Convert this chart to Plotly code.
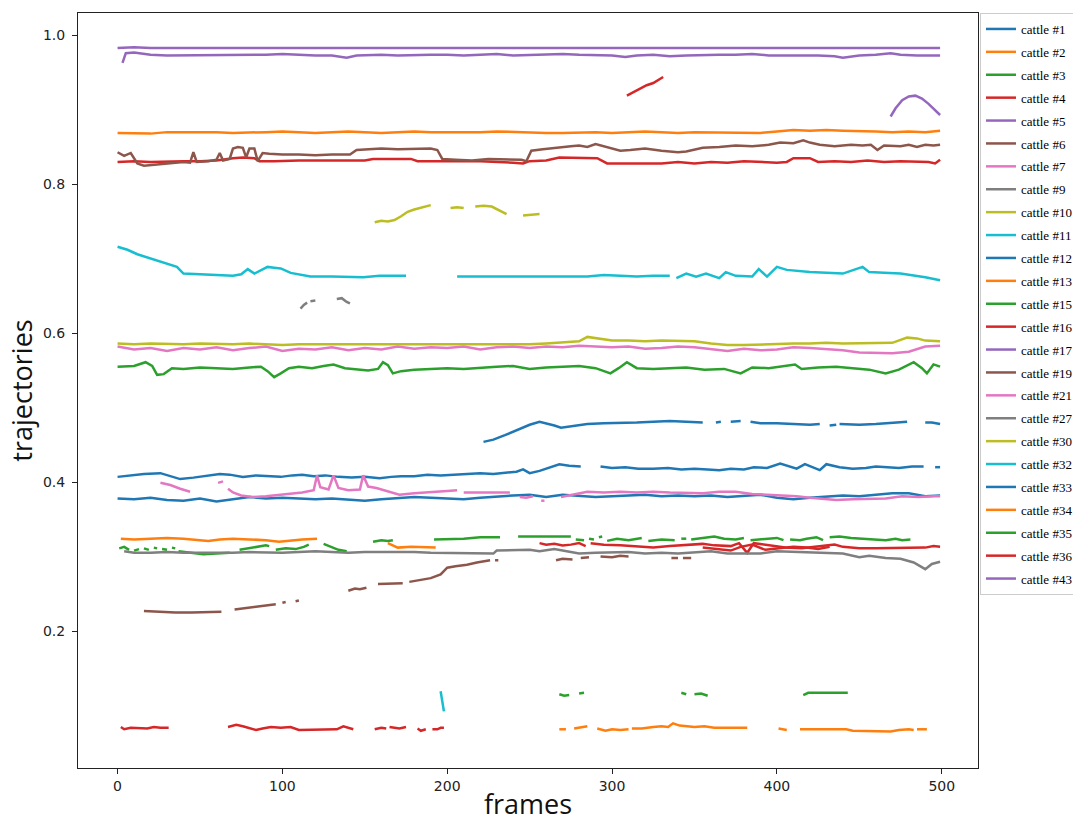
import plotly.graph_objects as go

F10 = [0,10,20,30,40,50,60,70,80,90,100,110,120,130,140,150,160,170,180,190,
       200,210,220,230,240,250,260,270,280,290,300,310,320,330,340,350,360,370,380,390,
       400,410,420,430,440,450,460,470,480,490,499]

X_C1 = [0,8,16,26,32,38,46,54,62,68,76,84,92,99,106,112,119,126,134,142,150,159,166,172,180,188,196,204,212,220,
        228,236,242,246,250,256,262,268,274,281,None,293,300,308,316,325,334,342,350,358,365,372,380,386,394,402,407,412,417,422,426,
        430,438,446,454,460,466,474,482,489,None,496,499]
Y_C1 = [.407,.409,.411,.412,.408,.404,.406,.409,.411,.410,.407,.409,.408,.407,.409,.410,.408,.409,.407,.406,
        .407,.405,.407,.408,.408,.410,.409,.410,.411,.412,.411,.413,.414,.417,.412,.415,.419,.424,.422,.421,None,
        .421,.419,.420,.418,.418,.419,.417,.418,.417,.416,.418,.417,.420,.419,.425,.421,.418,.424,.420,.416,
        .424,.420,.418,.419,.421,.420,.419,.421,.421,None,.420,.420]

X_C2 = F10
Y_C2 = [.869,.868,.868,.870,.870,.871,.870,.869,.870,.870,.871,.870,.869,.870,.871,.870,.869,.870,.871,.870,
        .870,.869,.870,.871,.870,.870,.869,.869,.870,.870,.869,.870,.871,.870,.869,.870,.870,.869,.870,.869,
        .871,.873,.872,.873,.872,.872,.871,.870,.871,.870,.872]

X_C3 = [0,10,17,21,24,28,33,40,50,60,70,80,87,91,95,99,104,110,118,125,131,138,145,152,158,161,164,167,172,180,
        190,200,210,220,230,240,250,260,270,280,290,299,304,309,315,325,335,345,356,368,378,385,395,411,415,425,436,446,456,466,
        474,483,488,491,495,499]
Y_C3 = [.555,.556,.561,.556,.544,.545,.553,.552,.554,.553,.552,.554,.555,.549,.541,.546,.553,.555,.553,.556,
        .558,.553,.551,.550,.552,.561,.557,.546,.549,.551,.552,.553,.552,.554,.555,.556,.552,.554,.555,.556,
        .553,.546,.553,.561,.553,.552,.553,.554,.551,.552,.546,.554,.553,.558,.552,.554,.555,.553,.551,.546,
        .551,.561,.553,.546,.558,.555]

X_C4 = [0,10,20,30,40,50,60,70,76,83,86,95,110,130,150,155,170,178,182,200,220,240,246,250,260,268,275,280,285,291,
        297,310,320,330,340,350,360,370,380,390,400,406,410,420,425,435,445,455,465,475,485,492,496,499]
Y_C4 = [.830,.831,.830,.831,.831,.831,.832,.835,.836,.835,.831,.831,.832,.832,.832,.834,.834,.834,.831,.831,
        .831,.829,.828,.831,.832,.836,.836,.835,.836,.835,.828,.828,.829,.828,.830,.828,.830,.829,.831,.830,
        .829,.830,.835,.835,.830,.831,.830,.832,.830,.831,.830,.830,.828,.833]

X_C5 = F10
Y_C5 = [.983,.984,.983,.983,.984,.983,.983,.984,.983,.983,.983,.984,.983,.983,.984,.983,.984,.983,.983,.984,
        .983,.983,.984,.983,.983,.984,.983,.983,.984,.983,.983,.984,.983,.983,.984,.983,.983,.984,.983,.983,
        .984,.983,.983,.984,.983,.983,.984,.983,.983,.984,.983]

X_C6 = [0,4,8,12,16,22,28,34,40,44,46,48,55,60,62,64,68,70,73,76,78,80,83,85,88,92,100,110,120,130,
        141,145,150,160,170,180,190,194,197,205,215,225,235,245,248,251,258,265,275,280,
        285,290,295,300,305,311,320,330,340,345,355,365,375,385,395,402,410,416,420,426,
        435,445,452,457,461,465,475,480,485,490,495,499]
Y_C6 = [.843,.838,.842,.828,.825,.826,.827,.829,.830,.829,.843,.830,.831,.833,.842,.832,.834,.848,.850,.849,
        .836,.848,.848,.831,.842,.841,.840,.840,.839,.840,.840,.846,.847,.848,.847,.848,.848,.846,.834,.833,
        .832,.834,.833,.833,.831,.845,.847,.849,.851,.852,.850,.854,.851,.847,.845,.846,.848,.845,.843,.844,
        .849,.850,.852,.851,.853,.856,.855,.859,.856,.853,.851,.853,.852,.853,.846,.852,.851,.853,.850,.853,
        .852,.853]

X_C7 = F10
Y_C7 = [.582,.578,.580,.576,.580,.578,.581,.577,.580,.582,.576,.579,.578,.581,.577,.580,.578,.582,.579,.581,
        .580,.582,.578,.581,.582,.580,.582,.581,.583,.582,.581,.582,.579,.580,.582,.581,.578,.576,.579,.577,
        .578,.581,.580,.579,.577,.574,.573,.573,.575,.582,.583]

X_C9 = [111,113,115,None,117,120,None,133,136,139,141]
Y_C9 = [.633,.638,.641,None,.643,.644,None,.646,.647,.642,.640]

X_C10 = [156,160,164,168,172,176,180,185,190,None,202,206,210,None,217,222,227,231,234,236,None,246,250,256]
Y_C10 = [.749,.751,.750,.752,.757,.763,.766,.769,.772,None,.768,.769,.768,None,.770,.771,.770,.766,.762,.760,None,.758,.759,.760]

X_C11 = [0,6,12,18,24,30,36,40,50,62,70,75,79,83,87,91,95,99,105,111,117,130,140,149,159,168,175,None,206,215,
         225,235,245,255,265,275,285,295,305,315,325,335,None,339,345,351,357,365,369,375,
         385,389,394,400,406,420,440,452,456,465,475,490,499]
Y_C11 = [.716,.712,.706,.702,.698,.694,.689,.680,.679,.677,.677,.679,.686,.680,.684,.689,.688,.687,.681,.678,
         .676,.676,.675,.675,.677,.677,.677,None,.676,.676,.677,.676,.676,.677,.676,.677,.676,.678,.677,.676,
         .677,.677,None,.674,.680,.676,.680,.674,.682,.677,.676,.686,.676,.689,.685,.682,.680,.689,.682,.681,
         .680,.675,.671]

X_C12 = F10
Y_C12 = [.378,.377,.379,.376,.375,.378,.374,.377,.380,.378,.379,.378,.377,.378,.376,.375,.377,.378,.380,.379,
         .378,.377,.379,.381,.382,.383,.380,.383,.382,.380,.381,.382,.383,.381,.382,.381,.382,.380,.382,.383,
         .379,.377,.379,.381,.382,.381,.383,.385,.385,.381,.382]

X_C13 = [2,10,20,30,40,48,55,62,70,80,90,98,105,112,121,None,164,170,178,186,193]
Y_C13 = [.324,.323,.324,.325,.324,.322,.321,.323,.324,.323,.322,.320,.322,.323,.324,None,.318,.312,.313,.312,.312]

X_C15 = [1,4,7,None,10,13,None,16,19,None,22,24,None,27,30,None,33,35,None,37,44,52,60,68,None,
         74,80,86,90,92,None,96,102,108,113,116,None,125,130,134,139,None,155,160,164,167,None,
         192,200,210,220,232,None,243,250,260,270,275,None,278,283,None,286,289,None,292,294,None,
         297,303,310,318,None,322,330,338,None,342,345,None,348,355,362,368,375,380,None,
         384,392,400,404,None,408,414,418,424,428,None,432,438,445,452,460,466,472,476,481]
Y_C15 = [.311,.313,.309,None,.308,.310,None,.311,.309,None,.312,.311,None,.310,.309,None,.312,.311,None,.307,.305,.303,.304,.305,None,
         .309,.311,.313,.315,.314,None,.309,.311,.310,.313,.316,None,.317,.313,.309,.307,None,.320,.322,.321,.322,None,
         .323,.323,.324,.326,.326,None,.327,.327,.327,.327,.327,None,.323,.322,None,.324,.323,None,.326,.327,None,
         .321,.324,.322,.325,None,.321,.323,.322,None,.324,.324,None,.323,.325,.327,.324,.323,.325,None,
         .322,.324,.325,.322,None,.323,.322,.324,.326,.322,None,.326,.327,.325,.324,.323,.322,.324,.322,.323]

X_C16 = [256,260,265,270,275,280,284,None,287,295,305,315,325,335,345,355,362,372,377,382,386,395,405,415,425,435,440,450,
         460,470,480,490,495,499,None,309,313,317,321,325,328,331]
Y_C16 = [.318,.316,.317,.315,.316,.318,.314,None,.318,.316,.315,.314,.312,.314,.315,.317,.315,.314,.318,.305,.318,.315,.312,.311,.314,.316,.313,.311,
         .311,.311,.311,.312,.314,.313,None,.919,.924,.928,.933,.936,.940,.944]

X_C17 = [3,5,10,15,20,30,40,50,60,70,80,90,100,110,120,130,139,145,160,170,180,190,200,210,220,230,240,250,260,270,
         280,290,300,308,315,325,335,345,355,365,375,385,395,405,415,425,435,440,450,460,469,475,485,499]
Y_C17 = [.963,.976,.977,.976,.974,.973,.973,.974,.974,.973,.973,.974,.975,.974,.973,.973,.970,.973,.974,.973,
         .974,.974,.974,.973,.974,.975,.973,.974,.975,.975,.974,.974,.973,.971,.973,.974,.972,.973,.974,.974,
         .974,.975,.973,.973,.974,.973,.972,.970,.973,.974,.976,.974,.973,.973]

X_C19 = [16,25,35,45,55,63,None,71,78,85,91,96,None,100,102,None,108,110,None,140,144,147,151,None,158,165,173,None,
         177,183,190,196,200,205,212,218,226,None,229,231,None,266,270,276,None,281,286,None,293,300,305,310,None,336,340,None,343,348]
Y_C19 = [.227,.226,.225,.225,.226,.226,None,.229,.231,.233,.235,.236,None,.238,.239,None,.240,.241,None,.254,.257,.256,.258,None,.263,.263,.264,None,
         .266,.268,.271,.276,.285,.287,.289,.292,.295,None,.295,.295,None,.295,.297,.296,None,.298,.299,None,.300,.299,.301,.300,None,.298,.298,None,.298,.298]

X_C21 = [26,32,38,44,None,61,64,None,67,70,75,82,90,99,105,112,119,121,123,128,131,134,140,147,149,152,157,163,168,171,180,190,200,206,None,
         210,220,230,238,None,244,248,252,None,257,259,None,
         269,277,285,295,305,315,325,335,345,355,365,375,385,395,405,412,420,430,436,446,456,466,476,486,495,499]
Y_C21 = [.399,.396,.391,.387,None,.399,.401,None,.391,.386,.382,.380,.381,.383,.385,.386,.389,.409,.393,.390,.409,.392,.389,.390,.409,.394,.392,.388,.385,.383,.385,.386,.388,.389,None,
         .386,.386,.387,.386,None,.380,.379,.381,None,.375,.375,None,
         .380,.383,.387,.386,.387,.386,.387,.386,.385,.385,.387,.387,.384,.383,.382,.381,.379,.377,.376,.377,.378,.378,.381,.380,.381,.381]

X_C27 = [4,10,20,30,40,50,60,70,80,90,100,110,120,130,140,150,160,170,180,190,200,210,220,228,230,240,250,256,265,275,
         280,290,300,310,320,330,340,350,360,370,380,390,400,410,420,430,440,450,456,466,475,483,490,494,499]
Y_C27 = [.307,.305,.305,.306,.305,.305,.304,.305,.306,.305,.305,.306,.307,.306,.305,.306,.306,.307,.306,.305,
         .305,.305,.304,.304,.308,.309,.309,.307,.310,.306,.304,.305,.305,.306,.304,.305,.304,.305,.307,.304,
         .304,.304,.307,.306,.305,.304,.304,.299,.301,.298,.297,.292,.283,.290,.293]

X_C30 = [0,10,20,30,40,50,60,70,80,90,100,110,120,130,140,150,160,170,180,190,200,210,220,230,240,250,260,270,280,285,
         290,300,310,320,330,340,350,360,370,380,390,400,410,420,430,440,450,460,470,479,485,490,499]
Y_C30 = [.586,.585,.586,.585,.585,.586,.585,.585,.586,.585,.584,.585,.585,.585,.584,.585,.585,.585,.584,.585,
         .585,.585,.585,.584,.585,.585,.586,.587,.589,.595,.593,.590,.590,.589,.590,.590,.589,.586,.584,.584,
         .585,.585,.586,.586,.587,.586,.586,.586,.587,.594,.593,.590,.589]

X_C32 = [196,198]
Y_C32 = [.119,.092]

X_C33 = [222,228,235,242,250,256,260,265,269,275,285,295,305,315,325,335,345,355,None,363,366,None,372,378,None,
         384,390,400,410,420,426,None,432,436,None,438,450,460,470,479,None,490,494,499]
Y_C33 = [.454,.457,.463,.470,.477,.481,.479,.476,.473,.475,.478,.479,.479,.480,.481,.482,.481,.480,None,.480,.481,None,.481,.482,None,
         .481,.479,.479,.478,.477,.478,None,.476,.477,None,.478,.477,.478,.480,.481,None,.480,.480,.478]

X_C34 = [268,272,None,277,281,285,None,291,293,296,300,305,310,None,312,318,325,330,334,337,341,345,350,356,362,370,382,None,
         401,406,None,414,425,435,442,446,455,465,469,474,480,483,None,485,491]
Y_C34 = [.068,.068,None,.069,.070,.072,None,.069,.068,.066,.068,.067,.068,None,.069,.069,.071,.072,.071,.076,.073,.072,.071,.072,.070,.070,.070,None,
         .069,.067,None,.068,.068,.068,.068,.066,.066,.066,.065,.067,.068,.067,None,.068,.068]

X_C35 = [268,271,274,None,280,283,None,342,345,None,350,354,358,None,416,419,430,443]
Y_C35 = [.115,.113,.114,None,.116,.117,None,.117,.115,None,.115,.116,.113,None,.114,.117,.117,.117]

X_C36 = [2,4,8,14,18,22,26,31,None,67,72,76,80,84,88,93,99,105,110,118,126,133,137,140,143,None,156,160,163,None,
         165,167,171,175,None,182,184,187,None,191,194,196,198,None,355,365,372,378,385,393,400,410,418,425,432]
Y_C36 = [.071,.068,.070,.070,.069,.071,.070,.070,None,.071,.074,.072,.070,.067,.069,.071,.070,.071,.067,.067,.067,.068,.072,.070,.068,None,.068,.070,.069,None,
         .071,.070,.069,.071,None,.069,.066,.068,None,.068,.068,.070,.070,None,.312,.310,.308,.313,.316,.309,.311,.313,.312,.310,.313]

X_C43 = [469,472,476,480,484,488,492,496,499]
Y_C43 = [.891,.902,.913,.918,.919,.915,.908,.899,.893]

NAMES = ["cattle #1","cattle #2","cattle #3","cattle #4","cattle #5","cattle #6","cattle #7","cattle #9",
         "cattle #10","cattle #11","cattle #12","cattle #13","cattle #15","cattle #16","cattle #17","cattle #19",
         "cattle #21","cattle #27","cattle #30","cattle #32","cattle #33","cattle #34","cattle #35","cattle #36","cattle #43"]
XS = [X_C1,X_C2,X_C3,X_C4,X_C5,X_C6,X_C7,X_C9,X_C10,X_C11,X_C12,X_C13,X_C15,X_C16,X_C17,X_C19,
      X_C21,X_C27,X_C30,X_C32,X_C33,X_C34,X_C35,X_C36,X_C43]
YS = [Y_C1,Y_C2,Y_C3,Y_C4,Y_C5,Y_C6,Y_C7,Y_C9,Y_C10,Y_C11,Y_C12,Y_C13,Y_C15,Y_C16,Y_C17,Y_C19,
      Y_C21,Y_C27,Y_C30,Y_C32,Y_C33,Y_C34,Y_C35,Y_C36,Y_C43]
PALETTE = ["#1f77b4","#ff7f0e","#2ca02c","#d62728","#9467bd","#8c564b","#e377c2","#7f7f7f","#bcbd22","#17becf"]

fig = go.Figure()
for i, (name, xs, ys) in enumerate(zip(NAMES, XS, YS)):
    n = min(len(xs), len(ys))
    fig.add_trace(go.Scatter(
        x=xs[:n], y=ys[:n], mode="lines", name=name, legendgroup=name,
        line=dict(color=PALETTE[i % 10], width=2.5), connectgaps=False))

fig.update_layout(
    width=1073, height=827,
    margin=dict(l=78, r=95, t=13, b=59, autoexpand=False),
    paper_bgcolor="white", plot_bgcolor="white",
    showlegend=True,
    legend=dict(x=1.0022, y=1, xanchor="left", yanchor="top",
                bgcolor="white", bordercolor="#cccccc", borderwidth=1,
                font=dict(family="Liberation Serif", size=13, color="#000000"),
                tracegroupgap=3, itemwidth=30),
    font=dict(family="DejaVu Sans", color="#222222"),
)
fig.update_xaxes(range=[-24, 522], tickvals=[0,100,200,300,400,500],
                 showline=True, mirror=True, linecolor="#222222", linewidth=1,
                 ticks="outside", ticklen=5, tickcolor="#222222", showgrid=False, zeroline=False,
                 tickfont=dict(family="DejaVu Sans", size=14, color="#222222"),
                 automargin=False,
                 title=dict(text="frames", font=dict(family="Open Sans", size=27, color="#111111"), standoff=2))
fig.update_yaxes(range=[0.016, 1.030], tickvals=[0.2,0.4,0.6,0.8,1.0], tickformat=".1f",
                 showline=True, mirror=True, linecolor="#222222", linewidth=1,
                 ticks="outside", ticklen=5, tickcolor="#222222", showgrid=False, zeroline=False,
                 tickfont=dict(family="DejaVu Sans", size=14, color="#222222"),
                 automargin=False, ticklabelstandoff=4,
                 title=dict(text="trajectories", font=dict(family="Open Sans", size=27, color="#111111"), standoff=2))

fig.write_html("out.html")
